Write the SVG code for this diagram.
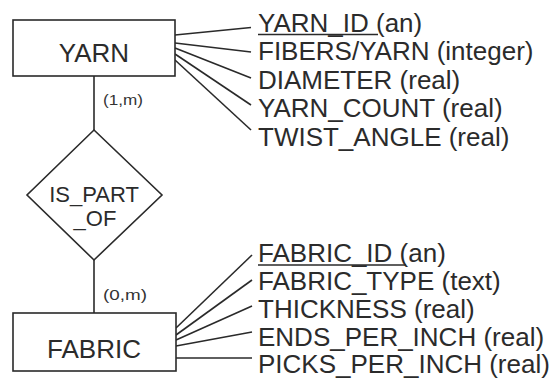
<svg xmlns="http://www.w3.org/2000/svg" width="558" height="380" viewBox="0 0 558 380">
<style>
.box{fill:#fff;stroke:#2a2a2a;stroke-width:1.6}
.ln{stroke:#2a2a2a;stroke-width:1.6;fill:none}
.t{font-family:"Liberation Sans",Arial,sans-serif;font-size:26px;fill:#2b2b2b}
.c{font-family:"Liberation Sans",Arial,sans-serif;font-size:15px;fill:#333}
.d{font-family:"Liberation Sans",Arial,sans-serif;font-size:22px;fill:#2b2b2b}
</style>
<rect width="558" height="380" fill="#fff"/>
<g id="connectors">
<line class="ln" x1="94" y1="76" x2="94" y2="130"/>
<line class="ln" x1="94" y1="260" x2="94" y2="313"/>
<line class="ln" x1="175" y1="35" x2="251" y2="27.5"/>
<line class="ln" x1="175" y1="43" x2="251" y2="52"/>
<line class="ln" x1="175" y1="48" x2="251" y2="78"/>
<line class="ln" x1="175" y1="54" x2="251" y2="105"/>
<line class="ln" x1="175" y1="60" x2="251" y2="130"/>
<line class="ln" x1="176" y1="328" x2="252" y2="255"/>
<line class="ln" x1="176" y1="335" x2="252" y2="280"/>
<line class="ln" x1="176" y1="340" x2="252" y2="306"/>
<line class="ln" x1="176" y1="346" x2="252" y2="332"/>
<line class="ln" x1="176" y1="358" x2="252" y2="358"/>
<text class="c" x="103" y="105" textLength="40" lengthAdjust="spacingAndGlyphs">(1,m)</text>
<text class="c" x="103" y="300" textLength="44" lengthAdjust="spacingAndGlyphs">(0,m)</text>
</g>
<g id="yarn">
<rect class="box" x="13" y="20" width="162" height="56"/>
<text class="t" x="94" y="62" text-anchor="middle">YARN</text>
</g>
<g id="is_part_of">
<polygon class="box" points="94,130 162,195 94,260 27,195"/>
<text class="d" x="94" y="202" text-anchor="middle">IS_PART</text>
<text class="d" x="95" y="226" text-anchor="middle">_OF</text>
</g>
<g id="fabric">
<rect class="box" x="13" y="313" width="163" height="58"/>
<text class="t" x="94" y="358" text-anchor="middle">FABRIC</text>
</g>
<g id="yarn_attributes">
<text class="t" x="258" y="31.5">YARN_ID (an)</text>
<line class="ln" x1="258" y1="34.5" x2="378" y2="34.5"/>
<text class="t" x="258" y="60">FIBERS/YARN (integer)</text>
<text class="t" x="258" y="88.5">DIAMETER (real)</text>
<text class="t" x="258" y="117">YARN_COUNT (real)</text>
<text class="t" x="258" y="145.5">TWIST_ANGLE (real)</text>
</g>
<g id="fabric_attributes">
<text class="t" x="258" y="262">FABRIC_ID (an)</text>
<line class="ln" x1="258" y1="265" x2="406" y2="265"/>
<text class="t" x="258" y="290">FABRIC_TYPE (text)</text>
<text class="t" x="258" y="318">THICKNESS (real)</text>
<text class="t" x="258" y="346">ENDS_PER_INCH (real)</text>
<text class="t" x="258" y="373">PICKS_PER_INCH (real)</text>
</g>
</svg>
